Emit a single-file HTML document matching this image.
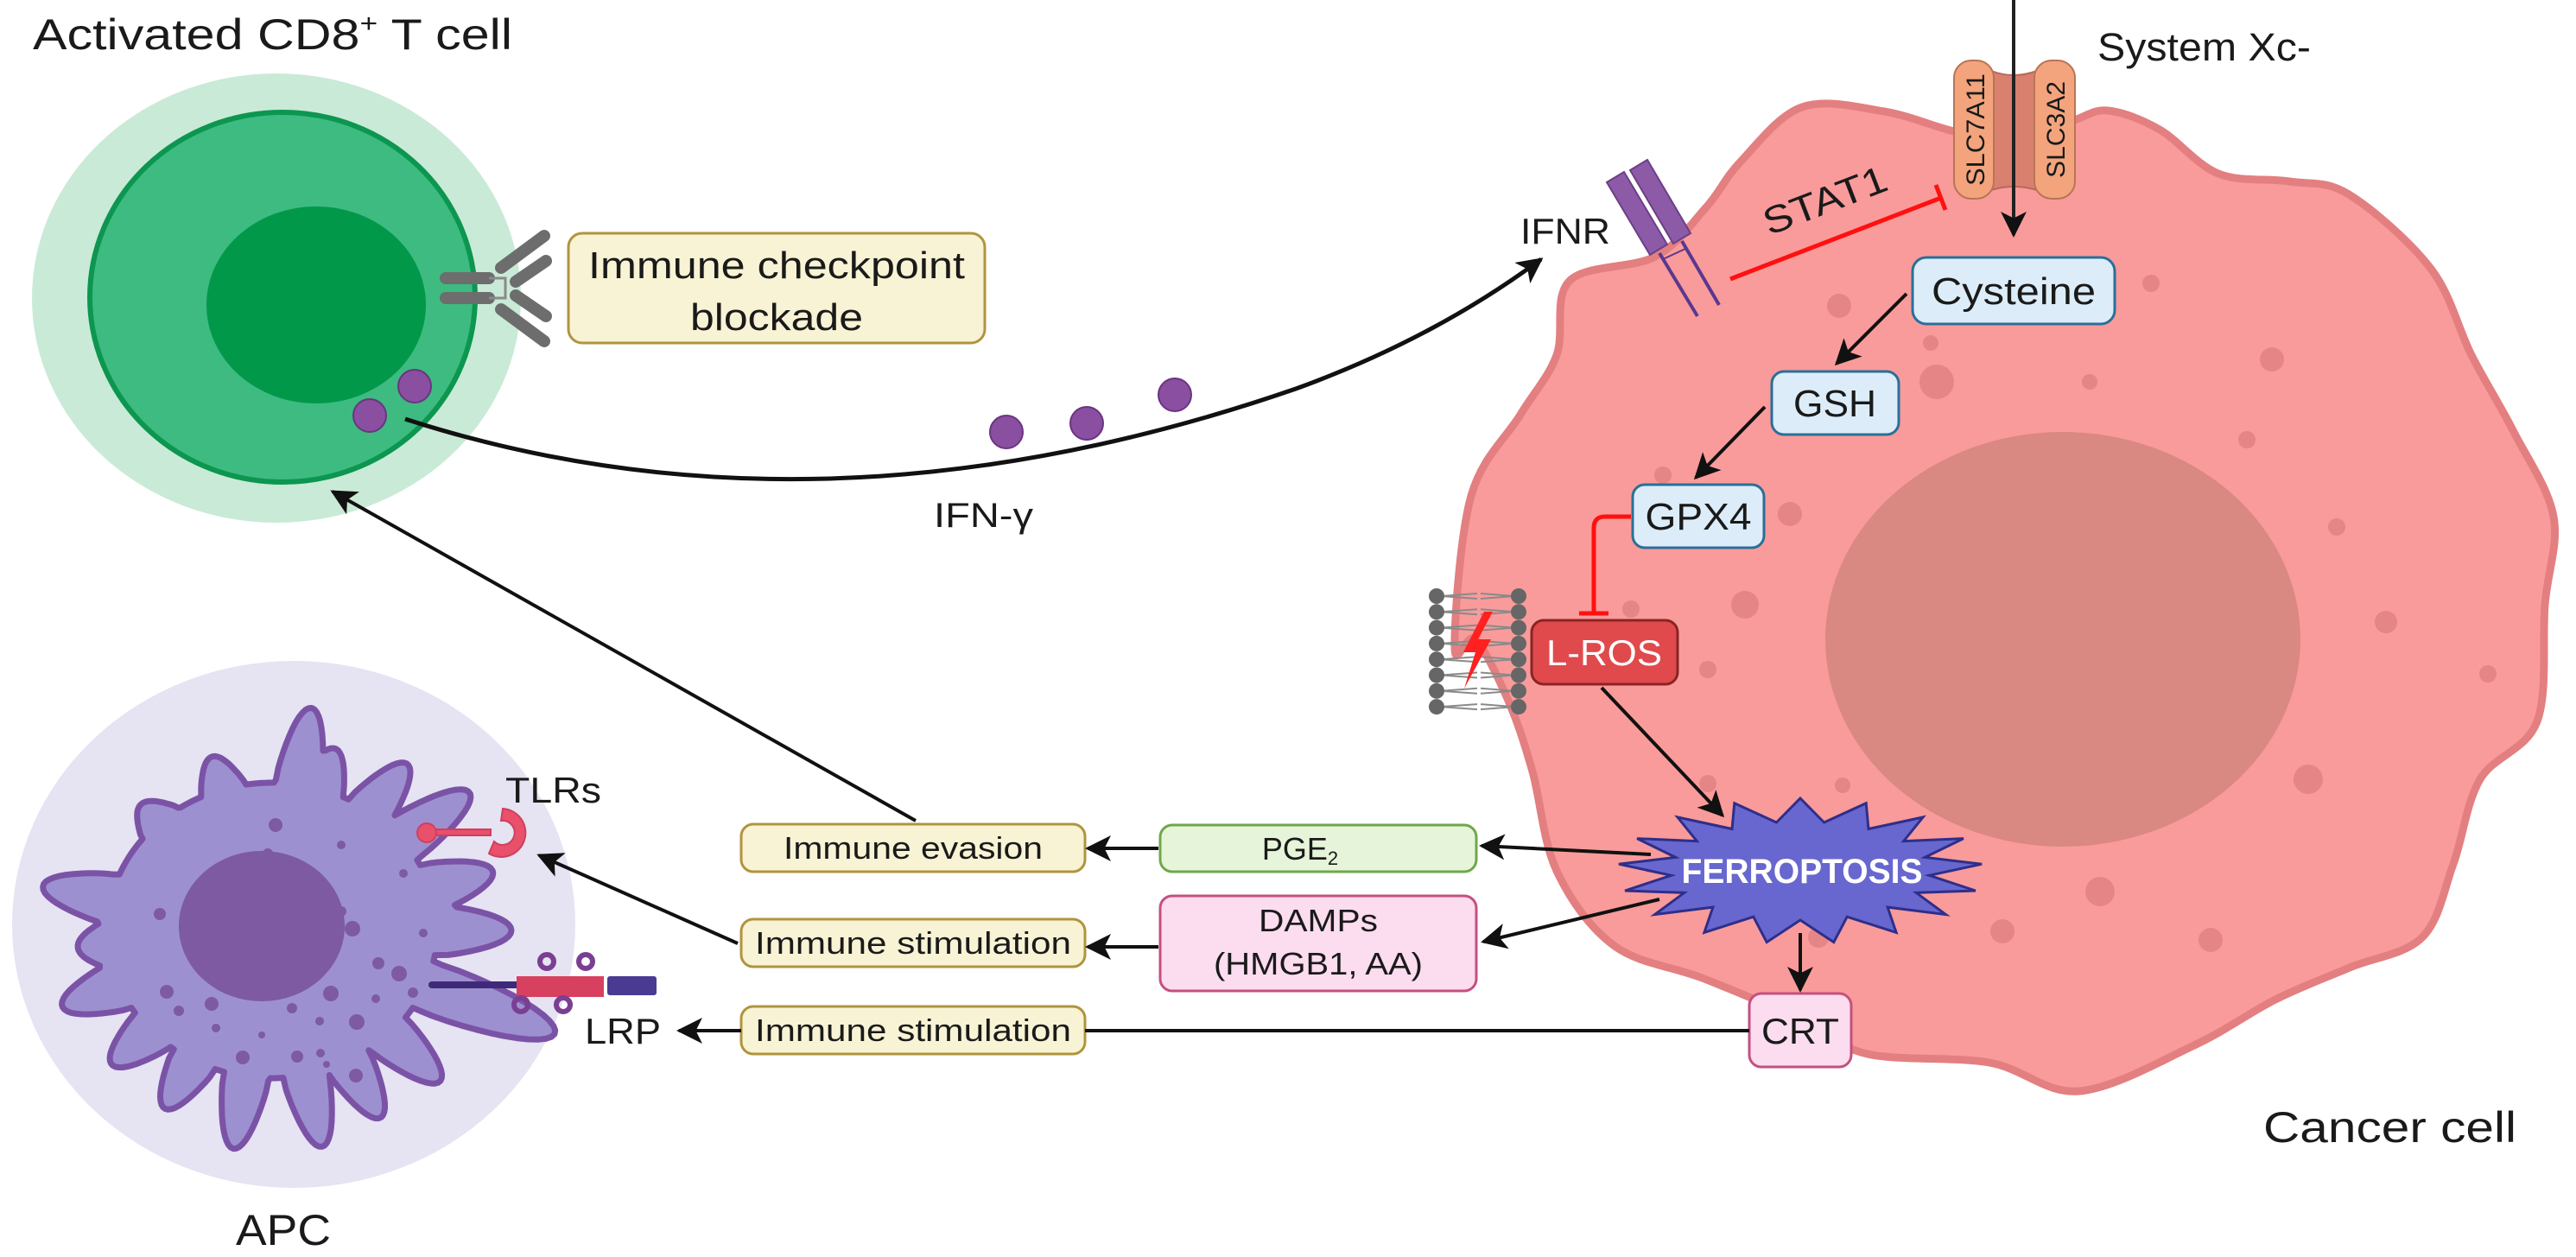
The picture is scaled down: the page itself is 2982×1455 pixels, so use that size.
<!DOCTYPE html>
<html><head><meta charset="utf-8">
<style>
html,body{margin:0;padding:0;background:#fff;}
svg{display:block;}
text{font-family:"Liberation Sans",Arial,sans-serif;fill:#1a1a1a;}
</style></head>
<body>
<svg id="s" width="2982" height="1455" viewBox="0 0 2982 1455" xmlns="http://www.w3.org/2000/svg">
<defs>
<marker id="ah" viewBox="0 0 10 10" refX="9" refY="5" markerWidth="30" markerHeight="30" markerUnits="userSpaceOnUse" orient="auto">
<path d="M0,0 L10,5 L0,10 L2.5,5 z" fill="#111"/>
</marker>
</defs>

<text x="38" y="57" font-size="50" textLength="555" lengthAdjust="spacingAndGlyphs">Activated CD8<tspan font-size="30" dy="-20">+</tspan><tspan dy="20"> T cell</tspan></text>

<ellipse cx="320" cy="345" rx="283" ry="260" fill="#c9ead7"/>
<ellipse cx="327" cy="344" rx="223" ry="214" fill="#3dbb80" stroke="#0c9650" stroke-width="6"/>
<ellipse cx="366" cy="353" rx="127" ry="114" fill="#02984a"/>
<ellipse cx="428" cy="481" rx="19" ry="19" fill="#8a4fa0" stroke="#6a3580" stroke-width="2"/>
<ellipse cx="480" cy="447" rx="19" ry="19" fill="#8a4fa0" stroke="#6a3580" stroke-width="2"/>

<g stroke="#6d6d6d" stroke-width="14" stroke-linecap="round" fill="none">
<line x1="516" y1="322" x2="566" y2="322"/>
<line x1="516" y1="345" x2="566" y2="345"/>
<line x1="580" y1="310" x2="630" y2="273"/>
<line x1="597" y1="326" x2="632" y2="302"/>
<line x1="580" y1="358" x2="630" y2="395"/>
<line x1="597" y1="342" x2="632" y2="366"/>
</g>
<g stroke="#8a8a8a" stroke-width="3" fill="none"><path d="M566,322 L585,322 L585,345 L566,345"/></g>

<rect x="658" y="270" width="482" height="127" rx="16" fill="#f7f3d4" stroke="#b0943e" stroke-width="3"/>
<text x="899" y="322" font-size="44" text-anchor="middle" textLength="436" lengthAdjust="spacingAndGlyphs">Immune checkpoint</text>
<text x="899" y="382" font-size="44" text-anchor="middle" textLength="200" lengthAdjust="spacingAndGlyphs">blockade</text>

<circle cx="1165" cy="500" r="19" fill="#8a4fa0" stroke="#6a3580" stroke-width="2"/>
<circle cx="1258" cy="490" r="19" fill="#8a4fa0" stroke="#6a3580" stroke-width="2"/>
<circle cx="1360" cy="457" r="19" fill="#8a4fa0" stroke="#6a3580" stroke-width="2"/>
<text x="1081" y="610" font-size="40" textLength="115" lengthAdjust="spacingAndGlyphs">IFN-γ</text>

<ellipse cx="340" cy="1070" rx="326" ry="305" fill="#e6e3f3"/>
<path id="apc" d="" fill="#9d90d0" stroke="#7b53a6" stroke-width="7" stroke-linejoin="round"/>
<ellipse cx="303" cy="1072" rx="96" ry="87" fill="#7d5aa2"/>
<g id="apcdots" fill="#7d5aa2"></g>
<text x="273" y="1441" font-size="50" textLength="110" lengthAdjust="spacingAndGlyphs">APC</text>
<text x="585" y="929" font-size="42" textLength="111" lengthAdjust="spacingAndGlyphs">TLRs</text>
<text x="677" y="1208" font-size="42" textLength="88" lengthAdjust="spacingAndGlyphs">LRP</text>

<g fill="#e8506c" stroke="#d0405c" stroke-width="2">
<path d="M582,936 A28,28 0 1 1 566,988 L572,974 A14,14 0 1 0 580,950 z"/>
<rect x="500" y="960" width="68" height="7"/>
<circle cx="494" cy="964" r="11"/>
</g>

<line x1="500" y1="1140" x2="600" y2="1140" stroke="#3e2a78" stroke-width="8" stroke-linecap="round"/>
<rect x="598" y="1130" width="101" height="24" fill="#d8405f"/>
<rect x="703" y="1130" width="57" height="22" rx="3" fill="#4a3a92"/>
<g fill="none" stroke="#7a3f92" stroke-width="6">
<circle cx="633" cy="1113" r="8"/><circle cx="678" cy="1113" r="8"/>
<circle cx="603" cy="1163" r="8"/><circle cx="652" cy="1163" r="8"/>
</g>

<path id="cancer" d="" fill="#f99b9a" stroke="#e37f80" stroke-width="9" stroke-linejoin="round"/>
<ellipse cx="2388" cy="740" rx="275" ry="240" fill="#d98882"/>
<g id="cdots" fill="#e58586"></g>
<text x="2620" y="1322" font-size="50" textLength="293" lengthAdjust="spacingAndGlyphs">Cancer cell</text>

<path d="M2305,82 Q2331,92 2358,82 L2358,220 Q2331,212 2305,220 z" fill="#d9806e" stroke="#b86a58" stroke-width="2"/>
<rect x="2262" y="70" width="46" height="160" rx="20" fill="#f3a47d" stroke="#b87555" stroke-width="2"/>
<rect x="2355" y="70" width="47" height="160" rx="20" fill="#f3a47d" stroke="#b87555" stroke-width="2"/>
<text transform="translate(2297,150) rotate(-90)" font-size="30" text-anchor="middle" textLength="130" lengthAdjust="spacingAndGlyphs" fill="#3a2a20">SLC7A11</text>
<text transform="translate(2390,150) rotate(-90)" font-size="30" text-anchor="middle" textLength="112" lengthAdjust="spacingAndGlyphs" fill="#3a2a20">SLC3A2</text>
<line x1="2331" y1="0" x2="2331" y2="272" stroke="#222" stroke-width="4" marker-end="url(#ah)"/>
<text x="2428" y="70" font-size="45" textLength="247" lengthAdjust="spacingAndGlyphs" fill="#333">System Xc-</text>

<g fill="#8c5aa6" stroke="#6c3f88" stroke-width="2">
<polygon points="1860,211 1880,199 1930,283 1910,295"/>
<polygon points="1887,197 1907,185 1957,270 1937,282"/>
</g>
<g stroke="#5a3890" stroke-width="4">
<line x1="1921" y1="293" x2="1965" y2="366"/>
<line x1="1947" y1="279" x2="1990" y2="353"/>
<line x1="1925" y1="300" x2="1951" y2="288" stroke-width="2"/>
</g>
<text x="1760" y="282" font-size="42" textLength="104" lengthAdjust="spacingAndGlyphs">IFNR</text>

<line x1="2003" y1="323" x2="2247" y2="229" stroke="#ff1010" stroke-width="5"/>
<line x1="2241" y1="214" x2="2252" y2="243" stroke="#ff1010" stroke-width="5"/>
<text transform="translate(2118,246) rotate(-21)" font-size="44" text-anchor="middle" textLength="150" lengthAdjust="spacingAndGlyphs">STAT1</text>

<rect x="2214" y="298" width="234" height="77" rx="16" fill="#dcedf9" stroke="#2a6f99" stroke-width="3"/>
<text x="2331" y="352" font-size="44" text-anchor="middle" textLength="190" lengthAdjust="spacingAndGlyphs">Cysteine</text>
<rect x="2051" y="430" width="147" height="73" rx="14" fill="#dcedf9" stroke="#2a6f99" stroke-width="3"/>
<text x="2124" y="482" font-size="44" text-anchor="middle" textLength="96" lengthAdjust="spacingAndGlyphs">GSH</text>
<rect x="1890" y="561" width="152" height="73" rx="14" fill="#dcedf9" stroke="#2a6f99" stroke-width="3"/>
<text x="1966" y="613" font-size="44" text-anchor="middle" textLength="123" lengthAdjust="spacingAndGlyphs">GPX4</text>
<line x1="2207" y1="340" x2="2126" y2="421" stroke="#111" stroke-width="4" marker-end="url(#ah)"/>
<line x1="2043" y1="471" x2="1963" y2="553" stroke="#111" stroke-width="4" marker-end="url(#ah)"/>

<path d="M1888,598 L1858,598 Q1845,598 1845,611 L1845,709" fill="none" stroke="#ff1010" stroke-width="5"/>
<line x1="1828" y1="710" x2="1862" y2="710" stroke="#ff1010" stroke-width="5"/>

<g id="bilayer"></g>
<path d="M1718,708 L1694,755 L1708,755 L1695,797 L1726,740 L1711,740 L1728,708 z" fill="#ff2020"/>

<rect x="1773" y="718" width="169" height="74" rx="14" fill="#e04a4c" stroke="#8a2424" stroke-width="3"/>
<text x="1857" y="770" font-size="42" text-anchor="middle" textLength="134" lengthAdjust="spacingAndGlyphs" style="fill:#fff">L-ROS</text>
<line x1="1854" y1="796" x2="1994" y2="944" stroke="#111" stroke-width="4" marker-end="url(#ah)"/>

<polygon id="star" points="" fill="#6767cf" stroke="#2e2e8a" stroke-width="3" stroke-linejoin="miter"/>
<text x="2086" y="1022" font-size="40" font-weight="bold" text-anchor="middle" textLength="279" lengthAdjust="spacingAndGlyphs" style="fill:#fff">FERROPTOSIS</text>

<rect x="1343" y="955" width="366" height="54" rx="14" fill="#e6f5d9" stroke="#6ea84a" stroke-width="3"/>
<text x="1505" y="995" font-size="36" text-anchor="middle">PGE<tspan font-size="22" dy="6">2</tspan></text>
<rect x="1343" y="1037" width="366" height="110" rx="14" fill="#fcdcef" stroke="#c4507f" stroke-width="3"/>
<text x="1526" y="1078" font-size="36" text-anchor="middle" textLength="138" lengthAdjust="spacingAndGlyphs">DAMPs</text>
<text x="1526" y="1128" font-size="36" text-anchor="middle" textLength="242" lengthAdjust="spacingAndGlyphs">(HMGB1, AA)</text>
<line x1="1911" y1="989" x2="1715" y2="979" stroke="#111" stroke-width="4" marker-end="url(#ah)"/>
<line x1="1921" y1="1041" x2="1717" y2="1090" stroke="#111" stroke-width="4" marker-end="url(#ah)"/>
<line x1="2084" y1="1080" x2="2084" y2="1146" stroke="#111" stroke-width="4" marker-end="url(#ah)"/>

<rect x="2025" y="1150" width="118" height="85" rx="14" fill="#fcdcef" stroke="#c4507f" stroke-width="3"/>
<text x="2084" y="1208" font-size="42" text-anchor="middle" textLength="90" lengthAdjust="spacingAndGlyphs">CRT</text>

<rect x="858" y="954" width="398" height="55" rx="14" fill="#f7f3d4" stroke="#b0943e" stroke-width="3"/>
<text x="1057" y="994" font-size="36" text-anchor="middle" textLength="300" lengthAdjust="spacingAndGlyphs">Immune evasion</text>
<rect x="858" y="1064" width="398" height="55" rx="14" fill="#f7f3d4" stroke="#b0943e" stroke-width="3"/>
<text x="1057" y="1104" font-size="36" text-anchor="middle" textLength="366" lengthAdjust="spacingAndGlyphs">Immune stimulation</text>
<rect x="858" y="1165" width="398" height="55" rx="14" fill="#f7f3d4" stroke="#b0943e" stroke-width="3"/>
<text x="1057" y="1205" font-size="36" text-anchor="middle" textLength="366" lengthAdjust="spacingAndGlyphs">Immune stimulation</text>

<line x1="1341" y1="982" x2="1259" y2="982" stroke="#111" stroke-width="4" marker-end="url(#ah)"/>
<line x1="1341" y1="1096" x2="1259" y2="1096" stroke="#111" stroke-width="4" marker-end="url(#ah)"/>
<line x1="2025" y1="1193" x2="1256" y2="1193" stroke="#111" stroke-width="4"/>
<line x1="858" y1="1193" x2="786" y2="1193" stroke="#111" stroke-width="4" marker-end="url(#ah)"/>
<line x1="1060" y1="950" x2="385" y2="569" stroke="#111" stroke-width="4" marker-end="url(#ah)"/>
<line x1="854" y1="1092" x2="624" y2="990" stroke="#111" stroke-width="4" marker-end="url(#ah)"/>

<path d="M469,485 Q950,640 1500,450 Q1660,392 1784,300" fill="none" stroke="#111" stroke-width="5" marker-end="url(#ah)"/>
</svg>

<script>
(function(){
var NS="http://www.w3.org/2000/svg";
function smooth(p){
  var n=p.length,d="M"+p[0][0]+","+p[0][1];
  for(var i=0;i<n;i++){
    var p0=p[(i-1+n)%n],p1=p[i],p2=p[(i+1)%n],p3=p[(i+2)%n];
    var c1=[p1[0]+(p2[0]-p0[0])/6,p1[1]+(p2[1]-p0[1])/6];
    var c2=[p2[0]-(p3[0]-p1[0])/6,p2[1]-(p3[1]-p1[1])/6];
    d+="C"+c1[0].toFixed(1)+","+c1[1].toFixed(1)+" "+c2[0].toFixed(1)+","+c2[1].toFixed(1)+" "+p2[0]+","+p2[1];
  }
  return d+"Z";
}
var cp=[[1684,750],[1703,574],[1760,480],[1802,411],[1817,325],[1916,297],[1975,240],[2015,187],[2086,124],[2181,129],[2266,153],[2331,160],[2398,140],[2440,128],[2500,150],[2568,201],[2650,210],[2719,225],[2814,311],[2861,411],[2910,500],[2956,598],[2946,700],[2937,835],[2871,902],[2840,1000],[2804,1085],[2720,1120],[2634,1157],[2540,1210],[2407,1263],[2303,1230],[2162,1220],[2086,1181],[1973,1133],[1869,1095],[1802,1008],[1774,893],[1746,811],[1708,740]];
document.getElementById("cancer").setAttribute("d",smooth(cp));
var cd=[[2129,354,14],[2235,397,9],[2242,442,20],[2419,442,9],[2490,328,10],[2630,416,14],[2601,509,10],[2072,595,14],[1925,550,10],[2020,700,16],[1888,705,10],[2705,610,10],[2762,720,13],[1977,775,10],[1977,907,10],[2133,909,9],[2431,1032,17],[2318,1078,14],[2559,1088,14],[2672,902,17],[2105,1085,12],[2880,780,10]];
var g=document.getElementById("cdots");
cd.forEach(function(c){var e=document.createElementNS(NS,"circle");e.setAttribute("cx",c[0]);e.setAttribute("cy",c[1]);e.setAttribute("r",c[2]);g.appendChild(e);});
var cx=315,cy=1077,rx=205,ry=185;
var f=[[20,160],[0,86],[-15,75],[-35,95],[-51,70],[-71,50],[-80,90],[-109,40],[-136,30],[-169,80],[175,35],[160,70],[140,60],[121,65],[100,85],[77,85],[60,75],[42,80]];
var pts=[],N=500;
for(var i=0;i<N;i++){
  var t=i/N*2*Math.PI;
  var base=1/Math.sqrt(Math.pow(Math.cos(t)/rx,2)+Math.pow(Math.sin(t)/ry,2));
  var add=0;
  f.forEach(function(q){
    var a=q[0]*Math.PI/180;var dt=Math.atan2(Math.sin(t-a),Math.cos(t-a));
    var w=0.15;
    if(Math.abs(dt)<w){var u=dt/w;add=Math.max(add,q[1]*Math.pow(1-u*u,0.45)*(0.5+0.5*Math.cos(u*Math.PI*0.6)));}
  });
  var R=base+add-14;
  pts.push([(cx+R*Math.cos(t)).toFixed(1),(cy+R*Math.sin(t)).toFixed(1)]);
}
document.getElementById("apc").setAttribute("d","M"+pts.map(function(p){return p.join(",");}).join(" L")+"Z");
var ad=[[319,955,8],[310,988,6],[258,1005,7],[185,1058,7],[395,1055,6],[408,1075,9],[438,1115,7],[462,1127,9],[193,1148,8],[245,1162,8],[207,1170,6],[338,1167,6],[383,1150,9],[413,1183,9],[478,1149,6],[435,1156,5],[370,1182,5],[371,1219,5],[250,1190,5],[303,1198,4],[281,1224,8],[344,1223,7],[378,1232,4],[412,1245,8],[395,978,5],[467,1011,5],[490,1080,5]];
var ag=document.getElementById("apcdots");
ad.forEach(function(c){var e=document.createElementNS(NS,"circle");e.setAttribute("cx",c[0]);e.setAttribute("cy",c[1]);e.setAttribute("r",c[2]);ag.appendChild(e);});
var sp=[],K=17,scx=2084,scy=1008;
for(var j=0;j<2*K;j++){
  var a=-Math.PI/2+j*Math.PI/K;var o=(j%2==0);
  var R1=o?[211,84]:[150,57];
  sp.push((scx+R1[0]*Math.cos(a)).toFixed(1)+","+(scy+R1[1]*Math.sin(a)).toFixed(1));
}
document.getElementById("star").setAttribute("points",sp.join(" "));
var bl=document.getElementById("bilayer");var h="";
for(var k=0;k<8;k++){var y=690+k*18.3;
 h+='<line x1="1668" y1="'+y+'" x2="1710" y2="'+(y+3)+'" stroke="#8a8a8a" stroke-width="2"/>';
 h+='<line x1="1668" y1="'+y+'" x2="1710" y2="'+(y-3)+'" stroke="#8a8a8a" stroke-width="2"/>';
 h+='<line x1="1753" y1="'+y+'" x2="1714" y2="'+(y+3)+'" stroke="#8a8a8a" stroke-width="2"/>';
 h+='<line x1="1753" y1="'+y+'" x2="1714" y2="'+(y-3)+'" stroke="#8a8a8a" stroke-width="2"/>';
 h+='<circle cx="1663" cy="'+y+'" r="9" fill="#666"/><circle cx="1758" cy="'+y+'" r="9" fill="#666"/>';}
bl.innerHTML=h;
})();
</script>
</body></html>
